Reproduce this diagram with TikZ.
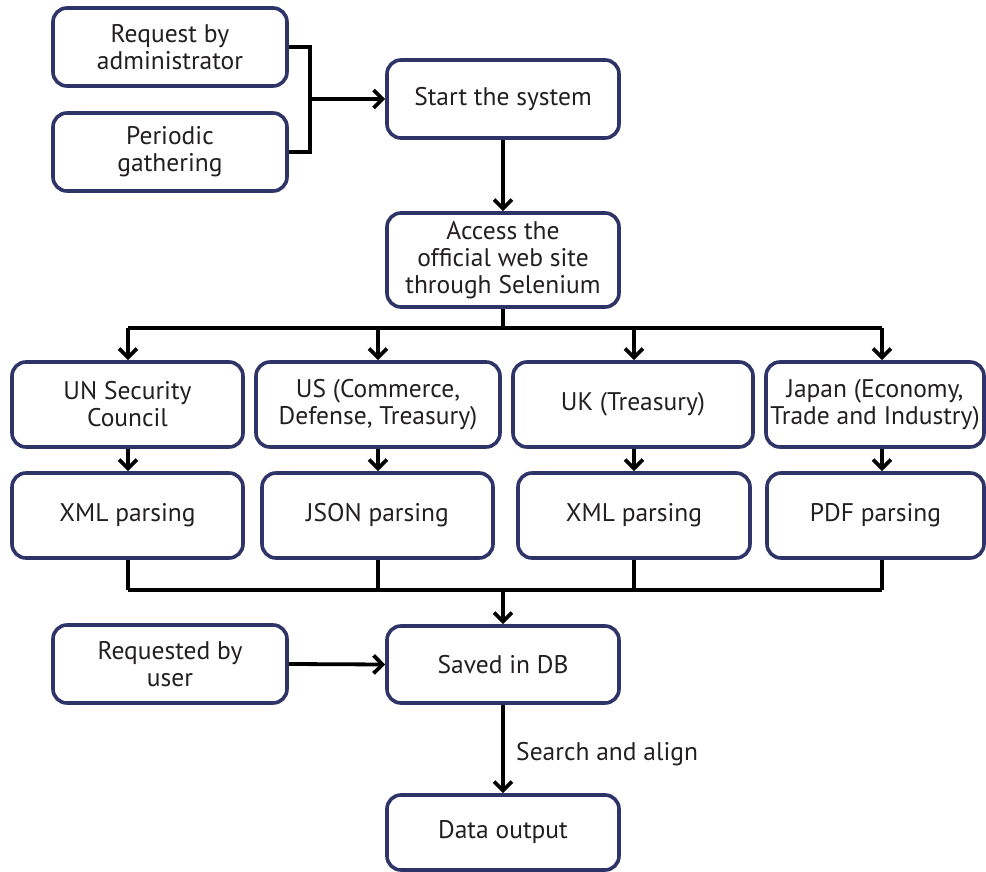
\documentclass[tikz,border=0pt]{standalone}
\usepackage{fontspec}
\setmainfont{PT Sans}
\usetikzlibrary{arrows.meta}
\definecolor{boxline}{HTML}{2E3468}
\definecolor{txt}{HTML}{231F20}
\begin{document}
\begin{tikzpicture}[x=1pt,y=-1pt,
  box/.style={draw=boxline, line width=3.6pt, rounded corners=14pt, fill=white,
    align=center, inner sep=0pt, text=txt,
    font=\fontsize{25.5}{27}\selectfont},
  conn/.style={line width=3.8pt, black},
  arr/.style={conn, -{Straight Barb[length=9pt, width=18pt, line width=3.8pt]}},
  lbl/.style={text=txt, font=\fontsize{25.5}{27}\selectfont}]
\useasboundingbox (0,0) rectangle (986,872);
% nodes
\node[box, minimum width=234pt, minimum height=78pt] (req) at (170,47) {Request by\\administrator};
\node[box, minimum width=234pt, minimum height=78pt] (per) at (170,152) {Periodic\\gathering};
\node[box, minimum width=232pt, minimum height=78pt] (start) at (503,99) {Start the system};
\node[box, minimum width=232pt, minimum height=94pt] (access) at (503,260) {Access the\\official web site\\through Selenium};
\node[box, minimum width=231pt, minimum height=85pt] (un) at (127.5,404.5) {UN Security\\Council};
\node[box, minimum width=244pt, minimum height=85pt] (us) at (378,404.5) {US (Commerce,\\Defense, Treasury)};
\node[box, minimum width=240pt, minimum height=85pt] (uk) at (633,404.5) {UK (Treasury)};
\node[box, minimum width=218pt, minimum height=85pt] (jp) at (875,404.5) {Japan (Economy,\\Trade and Industry)};
\node[box, minimum width=231pt, minimum height=85pt] (xml1) at (127.5,515.5) {XML parsing};
\node[box, minimum width=231pt, minimum height=85pt] (json) at (377.5,515.5) {JSON parsing};
\node[box, minimum width=232pt, minimum height=85pt] (xml2) at (634,515.5) {XML parsing};
\node[box, minimum width=217pt, minimum height=85pt] (pdf) at (875.5,515.5) {PDF parsing};
\node[box, minimum width=234pt, minimum height=78pt] (user) at (170,664) {Requested by\\user};
\node[box, minimum width=232pt, minimum height=77pt] (db) at (503,664.5) {Saved in DB};
\node[box, minimum width=232pt, minimum height=75pt] (out) at (503,832.5) {Data output};
% junction coordinates
\coordinate (j1) at (310,99);
\coordinate (bt) at (503,328);
\coordinate (t1) at (128,328);
\coordinate (t2) at (378,328);
\coordinate (t3) at (634,328);
\coordinate (t4) at (882,328);
\coordinate (m1) at (128,590);
\coordinate (m2) at (378,590);
\coordinate (m3) at (634,590);
\coordinate (m4) at (882,590);
\coordinate (mb) at (503,590);
% connectors
\draw[conn] (req.east) -| (j1) |- (per.east);
\draw[arr] (j1) -- (start.west);
\draw[arr] (start.south) -- (access.north);
\draw[conn] (access.south) -- (bt);
\draw[conn] (t1) -- (t4);
\draw[arr] (t1) -- (t1 |- un.north);
\draw[arr] (t2) -- (t2 |- us.north);
\draw[arr] (t3) -- (t3 |- uk.north);
\draw[arr] (t4) -- (t4 |- jp.north);
\draw[arr] (t1 |- un.south) -- (t1 |- xml1.north);
\draw[arr] (t2 |- us.south) -- (t2 |- json.north);
\draw[arr] (t3 |- uk.south) -- (t3 |- xml2.north);
\draw[arr] (t4 |- jp.south) -- (t4 |- pdf.north);
\draw[conn] (m1 |- xml1.south) -- (m1);
\draw[conn] (m2 |- json.south) -- (m2);
\draw[conn] (m3 |- xml2.south) -- (m3);
\draw[conn] (m4 |- pdf.south) -- (m4);
\draw[conn] (m1) -- (m4);
\draw[arr] (mb) -- (db.north);
\draw[arr] (user.east) -- (db.west);
\draw[arr] (db.south) -- node[lbl, right=8pt, pos=0.56] (sl) {Search and align} (out.north);
\end{tikzpicture}
\end{document}
